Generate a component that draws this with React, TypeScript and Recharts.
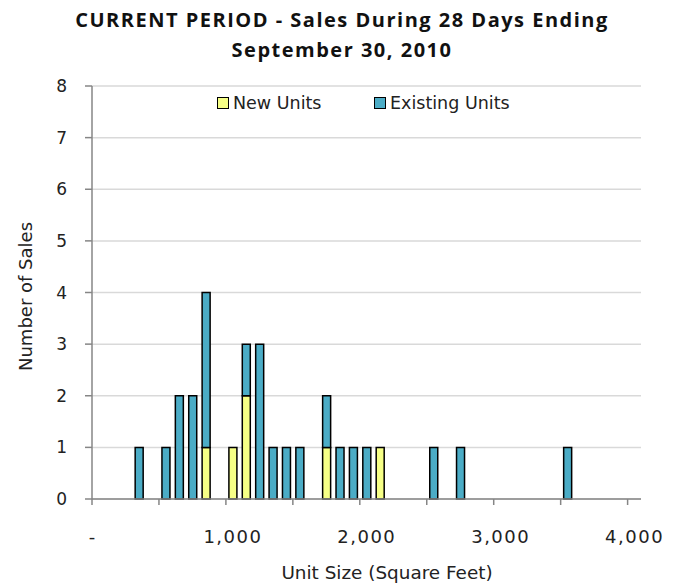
import { Bar, BarChart, CartesianGrid, Legend, XAxis, YAxis } from "recharts"

const unitSizes = [350, 550, 650, 750, 850, 1050, 1150, 1250, 1350, 1450, 1550, 1750, 1850, 1950, 2050, 2150, 2550, 2750, 3550]
const newUnits = [0, 0, 0, 0, 1, 1, 2, 0, 0, 0, 0, 1, 0, 0, 0, 1, 0, 0, 0]
const existingUnits = [1, 1, 2, 2, 3, 0, 1, 3, 1, 1, 1, 1, 1, 1, 1, 0, 1, 1, 1]
const xTicks = [0, 500, 1000, 1500, 2000, 2500, 3000, 3500, 4000]
const yTicks = [0, 1, 2, 3, 4, 5, 6, 7, 8]

const data = unitSizes.map((size, i) => ({
  size,
  "New Units": newUnits[i],
  "Existing Units": existingUnits[i],
}))

const FONT = "'DejaVu Sans', sans-serif"
const NEW_COLOR = "#F6FF86"
const EXISTING_COLOR = "#4BACC6"
const AXIS_COLOR = "#868686"

function XTick(props: any) {
  const { x, payload } = props
  const v = payload.value as number
  if (v % 1000 !== 0) return <g />
  const label = v === 0 ? "-" : v.toLocaleString("en-US")
  return (
    <text
      x={v === 0 ? x : x + 7}
      y={543}
      textAnchor="middle"
      fontSize={18}
      letterSpacing={v === 0 ? 0 : 1.5}
      fontFamily={FONT}
      fill="#222"
    >
      {label}
    </text>
  )
}

function YLabel(props: any) {
  const { viewBox } = props
  const cy = viewBox.y + viewBox.height / 2 + 4
  return (
    <text x={25} y={cy} transform={`rotate(-90 25 ${cy})`} textAnchor="middle" dominantBaseline="central" fontSize={18} fontFamily={FONT} fill="#222">
      Number of Sales
    </text>
  )
}

function XLabel() {
  return (
    <text x={387} y={572} textAnchor="middle" dominantBaseline="central" fontSize={18.4} fontFamily={FONT} fill="#222">
      Unit Size (Square Feet)
    </text>
  )
}

function LegendContent() {
  const item = (color: string, name: string, width?: number) => (
    <div style={{ display: "flex", alignItems: "center", width }}>
      <span style={{ display: "inline-block", width: 10, height: 10, background: color, border: "1px solid #000", marginRight: 4 }} />
      <span>{name}</span>
    </div>
  )
  return (
    <div style={{ display: "flex", paddingLeft: 217, fontFamily: FONT, fontSize: 17.5, color: "#222", lineHeight: "20px" }}>
      {item(NEW_COLOR, "New Units", 157)}
      {item(EXISTING_COLOR, "Existing Units")}
    </div>
  )
}

export default function App() {
  return (
    <div style={{ position: "absolute", left: 0, top: 0, width: 684, height: 585, background: "#fff" }}>
      <div
        style={{
          position: "absolute",
          top: 5,
          left: 0,
          width: 684,
          textAlign: "center",
          fontFamily: "'Open Sans', sans-serif",
          fontWeight: 700,
          fontSize: 20,
          letterSpacing: 1.5,
          lineHeight: "29.5px",
          color: "#111",
        }}
      >
        CURRENT PERIOD - Sales During 28 Days Ending
        <br />
        September 30, 2010
      </div>
      <BarChart width={684} height={585} data={data} margin={{ top: 86, right: 43, left: 0, bottom: 0 }} barSize={8}>
        <CartesianGrid vertical={false} stroke="#D9D9D9" strokeWidth={1.5} />
        <XAxis
          dataKey="size"
          type="number"
          domain={[0, 4100]}
          ticks={xTicks}
          interval={0}
          height={86}
          stroke={AXIS_COLOR}
          strokeWidth={1.5}
          tickSize={6}
          tick={<XTick />}
          label={<XLabel />}
        />
        <YAxis
          domain={[0, 8]}
          ticks={yTicks}
          interval={0}
          width={92}
          stroke={AXIS_COLOR}
          strokeWidth={1.5}
          tickSize={7}
          tickMargin={18}
          tick={{ fontSize: 17, fontFamily: FONT, fill: "#222" }}
          label={<YLabel />}
        />
        <Legend
          layout="horizontal"
          verticalAlign="middle"
          align="center"
          wrapperStyle={{ top: 93, left: 0, width: 684 }}
          content={<LegendContent />}
        />
        <Bar dataKey="New Units" stackId="a" fill={NEW_COLOR} stroke="#000" strokeWidth={1.5} isAnimationActive={false} />
        <Bar dataKey="Existing Units" stackId="a" fill={EXISTING_COLOR} stroke="#000" strokeWidth={1.5} isAnimationActive={false} />
      </BarChart>
    </div>
  )
}
